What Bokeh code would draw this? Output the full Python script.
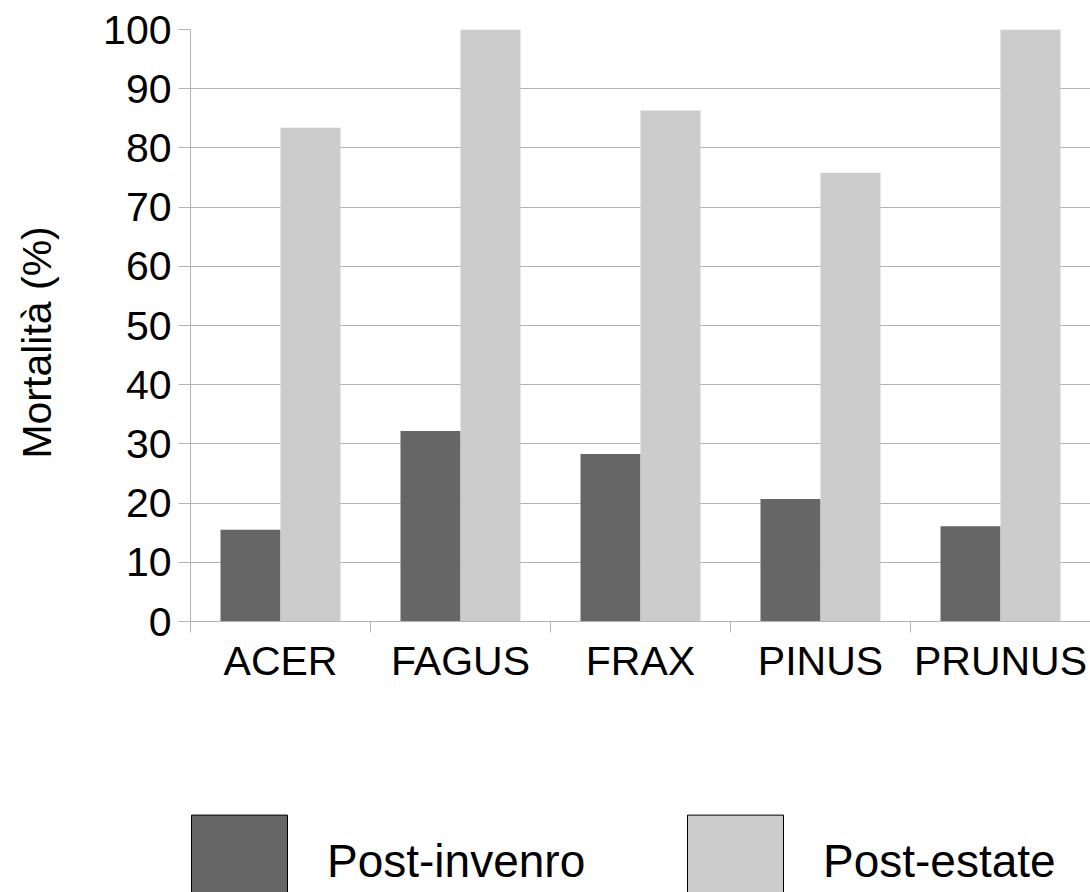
from bokeh.plotting import figure
from bokeh.models import (ColumnDataSource, Range1d, FixedTicker, Legend, LegendItem, Label)
from bokeh.layouts import column, row
from bokeh.transform import dodge
from bokeh.embed import file_html
from bokeh.resources import INLINE
import math

categories = ["ACER", "FAGUS", "FRAX", "PINUS", "PRUNUS"]
post_inverno = [15.5, 32.2, 28.3, 20.7, 16.1]
post_estate = [83.4, 100.0, 86.3, 75.8, 100.0]
series_labels = ["Post-invenro", "Post-estate"]
y_ticks = [0, 10, 20, 30, 40, 50, 60, 70, 80, 90, 100]
y_title = "Mortalità (%)"

DARK = "#666666"
LIGHT = "#cccccc"
GRID = "#b3b3b3"
FONT = "Liberation Sans"

H1 = 700          # height of chart row
LABW = 100        # width of the y-title strip

src = ColumnDataSource(dict(
    x=[i + 0.5 for i in range(len(categories))],
    inv=post_inverno,
    est=post_estate,
))

# ---------------- main chart ----------------
p = figure(width=1090 - LABW, height=H1, output_backend="svg", toolbar_location=None,
           x_range=Range1d(0, len(categories)), y_range=Range1d(0, 100),
           min_border_left=190 - LABW, min_border_right=0, min_border_top=29,
           min_border_bottom=H1 - 621)
p.outline_line_color = None

bw = 1 / 3
p.vbar(x=dodge("x", -1 / 6, range=p.x_range), top="inv", width=bw, source=src,
       fill_color=DARK, line_color=None)
p.vbar(x=dodge("x", 1 / 6, range=p.x_range), top="est", width=bw, source=src,
       fill_color=LIGHT, line_color=None)

xa = p.xaxis[0]
xa.ticker = FixedTicker(ticks=[i + 0.5 for i in range(len(categories))],
                        minor_ticks=list(range(len(categories) + 1)))
xa.major_label_overrides = {i + 0.5: c for i, c in enumerate(categories)}
xa.major_tick_line_color = None
xa.minor_tick_line_color = GRID
xa.minor_tick_out = 11
xa.minor_tick_in = 0
xa.axis_line_color = GRID
xa.major_label_text_font = FONT
xa.major_label_text_font_size = "41px"
xa.major_label_text_color = "black"
xa.major_label_standoff = 5

ya = p.yaxis[0]
ya.ticker = FixedTicker(ticks=y_ticks, minor_ticks=[])
ya.major_tick_line_color = GRID
ya.major_tick_out = 12
ya.major_tick_in = 0
ya.minor_tick_line_color = None
ya.axis_line_color = GRID
ya.major_label_text_font = FONT
ya.major_label_text_font_size = "41px"
ya.major_label_text_color = "black"
ya.major_label_standoff = 7

p.xgrid.grid_line_color = None
p.ygrid.grid_line_color = GRID
p.ygrid.grid_line_width = 1

# ---------------- y title strip ----------------
lab = figure(width=LABW, height=H1, output_backend="svg", toolbar_location=None,
             x_range=Range1d(0, LABW), y_range=Range1d(0, H1),
             x_axis_type=None, y_axis_type=None,
             min_border_left=0, min_border_right=0, min_border_top=0, min_border_bottom=0)
lab.outline_line_color = None
lab.xgrid.visible = False
lab.ygrid.visible = False
lab.add_layout(Label(x=36, y=H1 - 370, text=y_title, angle=math.pi / 2,
                     text_align="center", text_baseline="middle",
                     text_font=FONT, text_font_size="41px", text_color="black"))

# ---------------- legend strip ----------------
H2 = 892 - H1
leg = figure(width=1090, height=H2, output_backend="svg", toolbar_location=None,
             x_range=Range1d(0, 1), y_range=Range1d(0, 1),
             x_axis_type=None, y_axis_type=None,
             min_border_left=0, min_border_right=0, min_border_top=0, min_border_bottom=0)
leg.outline_line_color = None
leg.xgrid.visible = False
leg.ygrid.visible = False
# proxy renderers (placed outside the visible range) that only feed the legend
r1 = leg.vbar(x=[-0.5], bottom=[-2], top=[-1.5], width=0.1,
              fill_color=DARK, line_color="black", line_width=1)
r2 = leg.vbar(x=[-0.5], bottom=[-2], top=[-1.5], width=0.1,
              fill_color=LIGHT, line_color="black", line_width=1)

legend = Legend(items=[LegendItem(label=series_labels[0], renderers=[r1]),
                       LegendItem(label=series_labels[1], renderers=[r2])],
                orientation="horizontal", location=(179, -27),
                glyph_width=120, glyph_height=116, label_standoff=28,
                label_width=270, spacing=78, padding=10, margin=0,
                label_text_font=FONT, label_text_font_size="46px",
                label_text_color="black",
                border_line_color=None, background_fill_alpha=0)
leg.add_layout(legend, "center")

layout = column(row(lab, p), leg)
open("out.html", "w").write(file_html(layout, INLINE))
